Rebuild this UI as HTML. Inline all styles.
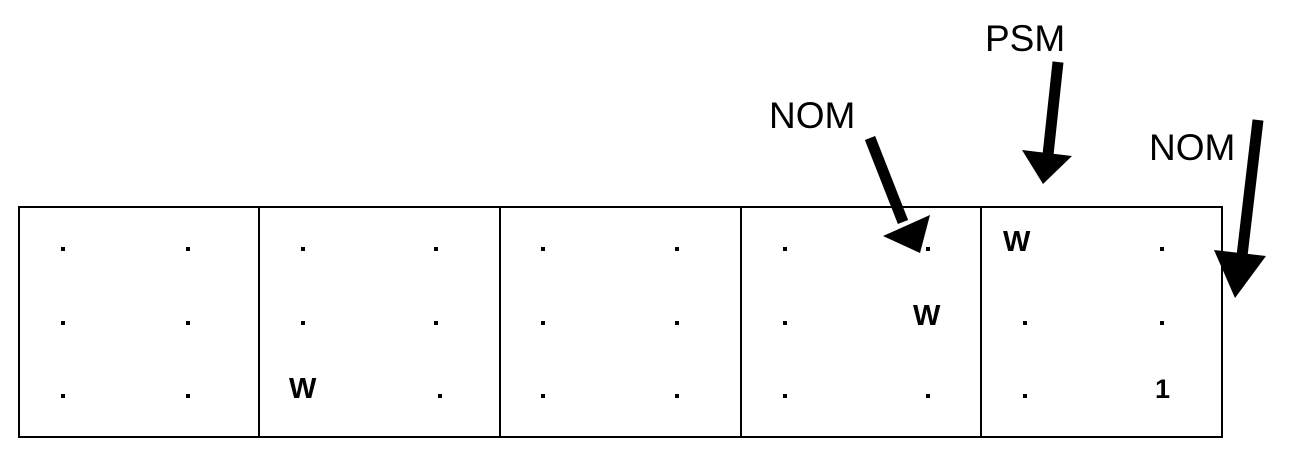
<!DOCTYPE html>
<html><head><style>html,body{margin:0;padding:0;background:#fff}svg{display:block}</style></head>
<body>
<svg width="1296" height="455" viewBox="0 0 1296 455" xmlns="http://www.w3.org/2000/svg" font-family="Liberation Sans, Arial, sans-serif">
<rect x="19" y="207" width="1203" height="230" fill="none" stroke="#000" stroke-width="2"/>
<g stroke="#000" stroke-width="2">
<line x1="259" y1="207" x2="259" y2="437"/>
<line x1="500" y1="207" x2="500" y2="437"/>
<line x1="741" y1="207" x2="741" y2="437"/>
<line x1="981" y1="207" x2="981" y2="437"/>
</g>
<g fill="#000">
<rect x="61" y="247" width="4" height="4"/><rect x="186" y="247" width="4" height="4"/>
<rect x="301" y="247" width="4" height="4"/><rect x="434" y="247" width="4" height="4"/>
<rect x="541" y="247" width="4" height="4"/><rect x="675" y="247" width="4" height="4"/>
<rect x="783" y="247" width="4" height="4"/><rect x="926" y="247" width="4" height="4"/>
<rect x="1160" y="247" width="4" height="4"/>
<rect x="61" y="321" width="4" height="4"/><rect x="186" y="321" width="4" height="4"/>
<rect x="301" y="321" width="4" height="4"/><rect x="434" y="321" width="4" height="4"/>
<rect x="541" y="321" width="4" height="4"/><rect x="675" y="321" width="4" height="4"/>
<rect x="783" y="321" width="4" height="4"/>
<rect x="1023" y="321" width="4" height="4"/><rect x="1160" y="321" width="4" height="4"/>
<rect x="61" y="394" width="4" height="4"/><rect x="186" y="394" width="4" height="4"/>
<rect x="438" y="394" width="4" height="4"/>
<rect x="541" y="394" width="4" height="4"/><rect x="675" y="394" width="4" height="4"/>
<rect x="783" y="394" width="4" height="4"/><rect x="926" y="394" width="4" height="4"/>
<rect x="1023" y="394" width="4" height="4"/>
</g>
<g font-weight="bold" font-size="29" fill="#000">
<text x="289" y="398">W</text>
<text x="913" y="325">W</text>
<text x="1003" y="251">W</text>
<text x="1155" y="398" font-size="27">1</text>
</g>
<g font-size="37" fill="#000">
<text x="769" y="128">NOM</text>
<text x="985" y="51">PSM</text>
<text x="1149" y="160">NOM</text>
</g>
<g fill="#000" stroke="#000">
<line x1="870" y1="138" x2="903" y2="222" stroke-width="11"/>
<polygon points="883,236 930,215 920,253" stroke="none"/>
<line x1="1058" y1="62" x2="1048" y2="155" stroke-width="11"/>
<polygon points="1022,150 1072,156 1043,184" stroke="none"/>
<line x1="1258" y1="120" x2="1242" y2="256" stroke-width="11"/>
<polygon points="1214,250 1266,256 1235,298" stroke="none"/>
</g>
</svg>
</body></html>
